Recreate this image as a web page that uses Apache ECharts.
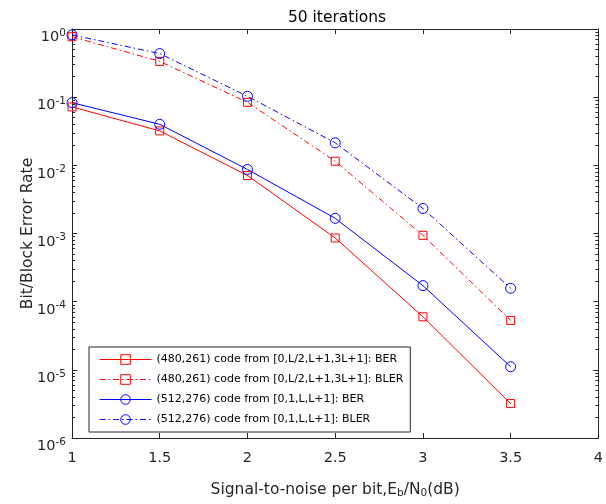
<!DOCTYPE html>
<html><head><meta charset="utf-8">
<script src="https://cdn.jsdelivr.net/npm/echarts@6/dist/echarts.min.js"></script>
<style>html,body{margin:0;padding:0;background:#fff}#c{width:606px;height:504px}</style>
</head><body><div id="c"></div>
<script>
const snr = [1, 1.5, 2, 2.5, 3, 3.5];
const ber480 = [0.072, 0.032, 0.0071, 0.00086, 0.000060, 0.0000032];
const bler480 = [0.77, 0.335, 0.084, 0.0115, 0.00094, 0.000053];
const ber512 = [0.083, 0.040, 0.0087, 0.00167, 0.000172, 0.0000111];
const bler512 = [0.82, 0.436, 0.103, 0.0214, 0.00233, 0.000157];
const seriesNames = [
  '(480,261) code from [0,L/2,L+1,3L+1]: BER',
  '(480,261) code from [0,L/2,L+1,3L+1]: BLER',
  '(512,276) code from [0,1,L,L+1]: BER',
  '(512,276) code from [0,1,L,L+1]: BLER'
];
const seriesColors = ['#ff0000', '#ff0000', '#0000ff', '#0000ff'];
const seriesSymbols = ['rect', 'rect', 'circle', 'circle'];
const seriesDashed = [false, true, false, true];
const titleText = '50 iterations';
const yName = 'Bit/Block Error Rate';

const FONT = '"DejaVu Sans", "Liberation Sans", Arial, sans-serif';
const AX = '#262626';
const dashDot = [6, 3, 1.5, 3];

function pairs(ys) { return snr.map((x, i) => [x, ys[i]]); }
function mk(i, ys, size) {
  const color = seriesColors[i];
  return {
    name: seriesNames[i], type: 'line', data: pairs(ys), xAxisIndex: 0, yAxisIndex: 0,
    symbol: seriesSymbols[i], symbolSize: size, showSymbol: true, animation: false,
    color: color,
    lineStyle: { color, width: 1, type: seriesDashed[i] ? dashDot : 'solid' },
    itemStyle: { color: 'rgba(255,255,255,0)', borderColor: color, borderWidth: 1 },
    emphasis: { disabled: true }
  };
}
function legendItem(i) {
  const color = seriesColors[i];
  return {
    name: seriesNames[i],
    itemStyle: { color: 'rgba(255,255,255,0)', borderColor: color, borderWidth: 1 },
    lineStyle: { color, width: 1.1, type: seriesDashed[i] ? dashDot : 'solid' }
  };
}

const chart = echarts.init(document.getElementById('c'), null, { renderer: 'canvas' });
const yAxisBase = {
  type: 'log', logBase: 10, min: 1e-6, max: 1, interval: 1, splitNumber: 6,
  axisLine: { show: true, lineStyle: { color: AX, width: 1 } },
  axisTick: { show: true, inside: true, length: 5, lineStyle: { color: AX } },
  minorTick: { show: true, splitNumber: 9, length: 3, lineStyle: { color: AX } },
  splitLine: { show: false }, minorSplitLine: { show: false }
};
const xAxisBase = {
  type: 'value', min: 1, max: 4, interval: 0.5,
  axisLine: { show: true, onZero: false, lineStyle: { color: AX, width: 1 } },
  axisTick: { show: true, inside: true, length: 5, lineStyle: { color: AX } },
  splitLine: { show: false }
};
chart.setOption({
  backgroundColor: '#fff',
  animation: false,
  textStyle: { fontFamily: FONT },
  title: {
    text: titleText, left: 332, top: 5, textAlign: 'center',
    textStyle: { fontFamily: FONT, fontSize: 15.5, fontWeight: 'normal', color: '#000' }
  },
  grid: { left: 72, right: 5, top: 29, bottom: 58, containLabel: false },
  xAxis: [
    Object.assign({}, xAxisBase, {
      position: 'bottom',
      axisLabel: { show: true, color: AX, fontSize: 14.5, fontFamily: FONT, margin: 13,
        formatter: v => String(v) },
      name: '{a|Signal-to-noise per bit,E}{s|b}{a|/N}{s|0}{a|(dB)}',
      nameLocation: 'middle', nameGap: 42, nameMoveOverlap: false,
      nameTextStyle: { color: AX, fontFamily: FONT, rich: {
        a: { fontSize: 15.5, color: AX, fontFamily: FONT },
        s: { fontSize: 10.5, color: AX, fontFamily: FONT, padding: [8, 0, 0, 0] }
      } }
    }),
    Object.assign({}, xAxisBase, { position: 'top', axisLabel: { show: false } })
  ],
  yAxis: [
    Object.assign({}, yAxisBase, {
      position: 'left',
      axisLabel: { show: true, margin: 6, fontFamily: FONT, padding: [17, 0, 0, 0],
        formatter: v => '{b|10}{s|' + Math.round(Math.log10(v)) + '}',
        rich: {
          b: { fontSize: 14.5, color: AX, fontFamily: FONT },
          s: { fontSize: 10.5, color: AX, fontFamily: FONT, padding: [0, 0, 9, 0] }
        } },
      name: yName, nameLocation: 'middle', nameGap: 36, nameRotate: 90, nameMoveOverlap: false,
      nameTextStyle: { color: AX, fontSize: 15.5, fontFamily: FONT }
    }),
    Object.assign({}, yAxisBase, { position: 'right', axisLabel: { show: false } })
  ],
  legend: {
    orient: 'vertical', left: 89, top: 347,
    padding: [7, 7, 7, 10], itemGap: 9, itemWidth: 52, itemHeight: 12,
    backgroundColor: '#fff', borderColor: AX, borderWidth: 1,
    textStyle: { fontSize: 11, color: '#000', fontFamily: FONT },
    data: [0, 1, 2, 3].map(legendItem), selectedMode: false
  },
  series: [
    mk(0, ber480, 8),
    mk(1, bler480, 8),
    mk(2, ber512, 10),
    mk(3, bler512, 10)
  ]
});
</script></body></html>
